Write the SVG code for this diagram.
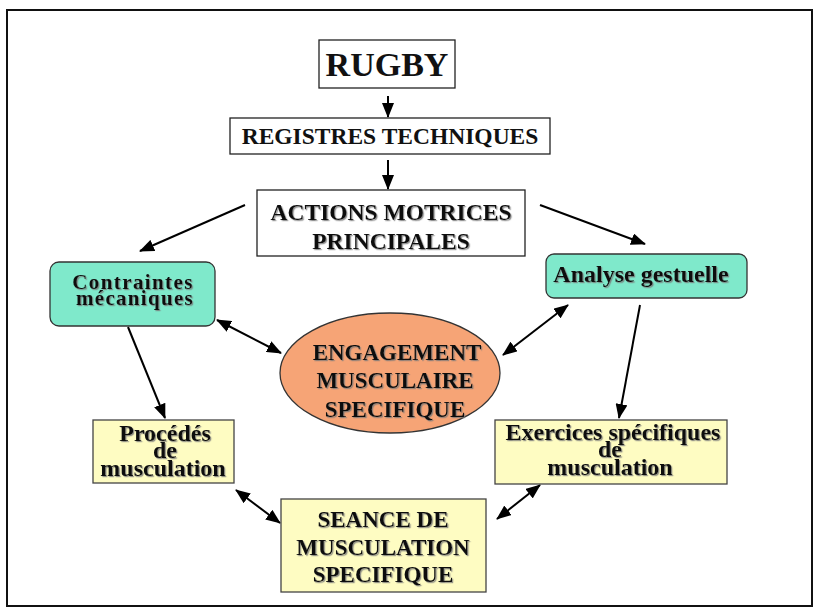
<svg xmlns="http://www.w3.org/2000/svg" width="819" height="612" viewBox="0 0 819 612">
<style>
text{font-family:"Liberation Serif","Times New Roman",serif;font-weight:bold;fill:#111;text-anchor:middle}
.sh{filter:url(#ts)}
.wbox{fill:#fff;stroke:#222;stroke-width:1.3}
.cbox{fill:#7fe9cb;stroke:#333;stroke-width:1.3}
.ybox{fill:#fefcc2;stroke:#444;stroke-width:1.3}
.ln{stroke:#000;stroke-width:2;fill:none}
.one{marker-end:url(#ah)}
.two{marker-start:url(#ah);marker-end:url(#ah)}
</style>
<defs>
<marker id="ah" markerUnits="userSpaceOnUse" markerWidth="15" markerHeight="12" viewBox="0 0 15 12" refX="14" refY="6" orient="auto-start-reverse">
<path d="M0,0 L15,6 L0,12 z" fill="#000"/>
</marker>
<filter id="ts" x="-10%" y="-20%" width="120%" height="150%">
<feDropShadow dx="1.2" dy="1.2" stdDeviation="0.3" flood-color="#777" flood-opacity="0.8"/>
</filter>
</defs>
<rect x="0" y="0" width="819" height="612" fill="#fff"/>
<rect id="frame" x="7" y="10" width="805" height="596" fill="none" stroke="#111" stroke-width="2"/>

<g id="connectors">
<line class="ln one" x1="388" y1="96" x2="388" y2="117"/>
<line class="ln one" x1="388" y1="160" x2="388" y2="189"/>
<line class="ln one" x1="245" y1="205" x2="140" y2="251"/>
<line class="ln one" x1="540" y1="205" x2="645" y2="244"/>
<line class="ln two" x1="217" y1="320" x2="281" y2="353"/>
<line class="ln two" x1="503" y1="355" x2="568" y2="305"/>
<line class="ln one" x1="128" y1="327" x2="165" y2="418"/>
<line class="ln one" x1="640" y1="305" x2="619" y2="418"/>
<line class="ln two" x1="236" y1="490" x2="280" y2="523"/>
<line class="ln two" x1="497" y1="519" x2="540" y2="485"/>
</g>

<g id="rugby">
<rect class="wbox" x="319" y="40" width="136" height="48"/>
<text x="387" y="76" font-size="34">RUGBY</text>
</g>

<g id="registres">
<rect class="wbox" x="230" y="118" width="320" height="36"/>
<text x="390" y="144" font-size="23.5">REGISTRES TECHNIQUES</text>
</g>

<g id="actions">
<rect class="wbox" x="257" y="190" width="268" height="66"/>
<text class="sh" x="391" y="220" font-size="23.5">ACTIONS MOTRICES</text>
<text class="sh" x="391" y="249" font-size="23.5">PRINCIPALES</text>
</g>

<g id="contraintes">
<rect class="cbox" x="50" y="262" width="165" height="64" rx="9"/>
<text class="sh" x="133" y="289" font-size="21" letter-spacing="1.4">Contraintes</text>
<text class="sh" x="135" y="305" font-size="21" letter-spacing="1.3">mécaniques</text>
</g>

<g id="analyse">
<rect class="cbox" x="546" y="254" width="201" height="44" rx="8"/>
<text class="sh" x="641" y="282" font-size="24">Analyse gestuelle</text>
</g>

<g id="engagement">
<ellipse cx="390" cy="373" rx="110" ry="60" fill="#f6a476" stroke="#333" stroke-width="1.3"/>
<text class="sh" x="397" y="360" font-size="23">ENGAGEMENT</text>
<text class="sh" x="395" y="388" font-size="23">MUSCULAIRE</text>
<text class="sh" x="395" y="417" font-size="23">SPECIFIQUE</text>
</g>

<g id="procedes">
<rect class="ybox" x="93" y="420" width="141" height="63"/>
<text class="sh" x="165" y="441" font-size="24">Procédés</text>
<text class="sh" x="165" y="458" font-size="24">de</text>
<text class="sh" x="163" y="476" font-size="24">musculation</text>
</g>

<g id="exercices">
<rect class="ybox" x="495" y="420" width="232" height="64"/>
<text class="sh" x="613" y="440" font-size="24">Exercices spécifiques</text>
<text class="sh" x="610" y="457" font-size="24">de</text>
<text class="sh" x="610" y="475" font-size="24">musculation</text>
</g>

<g id="seance">
<rect class="ybox" x="281" y="499" width="205" height="93"/>
<text class="sh" x="383" y="527" font-size="23">SEANCE DE</text>
<text class="sh" x="383" y="555" font-size="23">MUSCULATION</text>
<text class="sh" x="383" y="582" font-size="23">SPECIFIQUE</text>
</g>
</svg>
